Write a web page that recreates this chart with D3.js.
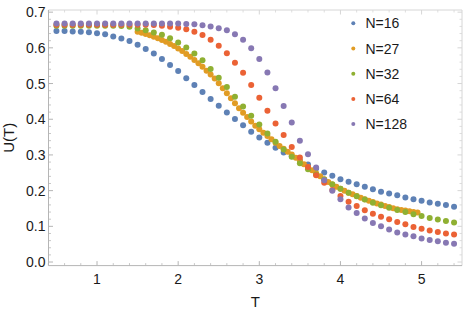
<html>
<head>
    <script src="https://d3js.org/d3.v7.min.js"></script>
    <style>
        body { margin: 0; background: #fff; }
        .tickLabel { font-family: "Liberation Sans", Arial, sans-serif; font-size: 14px; fill: #1a1a1a; }
        .axisTitle { font-family: "Liberation Sans", Arial, sans-serif; font-size: 15px; fill: #1a1a1a; }
        .legendLabels { font-family: "Liberation Sans", Arial, sans-serif; font-size: 14px; fill: #1a1a1a; }
    </style>
</head>
<body>
<svg id="chart" width="463" height="313"></svg>
<script>
    // temperatures for N=16, 32, 64, 128 (step 0.1)
    const tCoarse = [0.5, 0.6, 0.7, 0.8, 0.9, 1.0, 1.1, 1.2, 1.3, 1.4,
        1.5, 1.6, 1.7, 1.8, 1.9, 2.0, 2.1, 2.2, 2.3, 2.4,
        2.5, 2.6, 2.7, 2.8, 2.9, 3.0, 3.1, 3.2, 3.3, 3.4,
        3.5, 3.6, 3.7, 3.8, 3.9, 4.0, 4.1, 4.2, 4.3, 4.4,
        4.5, 4.6, 4.7, 4.8, 4.9, 5.0, 5.1, 5.2, 5.3, 5.4];
    // temperatures for N=27 (step 0.05)
    const tFine = [1.50, 1.55, 1.60, 1.65, 1.70, 1.75, 1.80, 1.85, 1.90, 1.95,
        2.00, 2.05, 2.10, 2.15, 2.20, 2.25, 2.30, 2.35, 2.40, 2.45,
        2.50, 2.55, 2.60, 2.65, 2.70, 2.75, 2.80, 2.85, 2.90, 2.95,
        3.00, 3.05, 3.10, 3.15, 3.20, 3.25, 3.30, 3.35, 3.40, 3.45,
        3.50, 3.55, 3.60, 3.65, 3.70, 3.75, 3.80, 3.85, 3.90, 3.95,
        4.00, 4.05, 4.10, 4.15, 4.20, 4.25, 4.30, 4.35, 4.40, 4.45,
        4.50, 4.55, 4.60, 4.65, 4.70, 4.75, 4.80, 4.85, 4.90, 4.95];

    const u16 = [0.647, 0.647, 0.646, 0.645, 0.644, 0.641, 0.638, 0.632, 0.626, 0.619,
        0.609, 0.597, 0.584, 0.569, 0.552, 0.535, 0.515, 0.496, 0.476, 0.457,
        0.438, 0.419, 0.401, 0.383, 0.365, 0.349, 0.334, 0.320, 0.307, 0.296,
        0.285, 0.273, 0.262, 0.251, 0.242, 0.232, 0.225, 0.218, 0.211, 0.204,
        0.197, 0.192, 0.187, 0.181, 0.176, 0.172, 0.167, 0.163, 0.160, 0.155];
    const u27 = [0.645, 0.642, 0.639, 0.635, 0.631, 0.627, 0.622, 0.617, 0.611, 0.605,
        0.598, 0.591, 0.583, 0.575, 0.566, 0.557, 0.547, 0.536, 0.525, 0.514,
        0.501, 0.487, 0.473, 0.459, 0.445, 0.431, 0.418, 0.406, 0.394, 0.382,
        0.372, 0.362, 0.353, 0.344, 0.334, 0.325, 0.317, 0.309, 0.301, 0.292,
        0.283, 0.274, 0.266, 0.257, 0.249, 0.240, 0.232, 0.224, 0.217, 0.211,
        0.205, 0.200, 0.194, 0.190, 0.185, 0.180, 0.176, 0.172, 0.168, 0.164,
        0.161, 0.157, 0.154, 0.151, 0.148, 0.146, 0.144, 0.142, 0.140, 0.139];
    const u32 = [0.662, 0.662, 0.662, 0.662, 0.662, 0.662, 0.662, 0.662, 0.661, 0.659,
        0.654, 0.649, 0.643, 0.637, 0.627, 0.615, 0.601, 0.584, 0.565, 0.541,
        0.516, 0.490, 0.463, 0.436, 0.410, 0.385, 0.360, 0.337, 0.315, 0.295,
        0.277, 0.260, 0.245, 0.231, 0.218, 0.205, 0.194, 0.184, 0.175, 0.166,
        0.159, 0.152, 0.146, 0.140, 0.134, 0.129, 0.123, 0.119, 0.115, 0.111];
    const u64 = [0.665, 0.665, 0.665, 0.665, 0.665, 0.665, 0.665, 0.665, 0.665, 0.665,
        0.665, 0.665, 0.664, 0.662, 0.659, 0.656, 0.652, 0.645, 0.636, 0.623,
        0.606, 0.585, 0.558, 0.530, 0.496, 0.460, 0.424, 0.388, 0.356, 0.322,
        0.293, 0.266, 0.243, 0.222, 0.202, 0.185, 0.169, 0.157, 0.145, 0.135,
        0.127, 0.120, 0.112, 0.106, 0.098, 0.093, 0.088, 0.084, 0.080, 0.077];
    const u128 = [0.668, 0.668, 0.668, 0.668, 0.668, 0.668, 0.668, 0.668, 0.668, 0.668,
        0.668, 0.668, 0.668, 0.668, 0.668, 0.668, 0.667, 0.666, 0.663, 0.660,
        0.655, 0.649, 0.638, 0.623, 0.599, 0.569, 0.531, 0.487, 0.437, 0.391,
        0.340, 0.302, 0.265, 0.229, 0.200, 0.176, 0.153, 0.137, 0.122, 0.109,
        0.100, 0.091, 0.083, 0.077, 0.072, 0.066, 0.062, 0.058, 0.054, 0.051];

    const seriesNames = ["N=16", "N=27", "N=32", "N=64", "N=128"];
    const seriesColors = ["#5E81B5", "#E19C24", "#8FB032", "#EB6235", "#8778B3"];
    const xTicks = [1, 2, 3, 4, 5];
    const yTicks = [0.0, 0.1, 0.2, 0.3, 0.4, 0.5, 0.6, 0.7];

    const series = [
        {name: seriesNames[0], t: tCoarse, u: u16},
        {name: seriesNames[1], t: tFine, u: u27},
        {name: seriesNames[2], t: tCoarse, u: u32},
        {name: seriesNames[3], t: tCoarse, u: u64},
        {name: seriesNames[4], t: tCoarse, u: u128}
    ];

    const svg = d3.select("#chart");
    const plotLeft = 48.5, plotRight = 462, plotTop = 10, plotBottom = 265.6;

    const x = d3.scaleLinear().domain([0.402, 5.498]).range([plotLeft, plotRight]);
    const y = d3.scaleLinear().domain([-0.01, 0.706]).range([plotBottom, plotTop]);
    const color = d3.scaleOrdinal().domain(seriesNames).range(seriesColors);

    const xMinor = d3.range(0.4, 5.5, 0.2).filter(v => Math.abs(v - Math.round(v)) > 0.01);
    const yMinor = d3.range(0, 0.71, 0.02).filter(v => Math.abs(v * 10 - Math.round(v * 10)) > 0.01);

    // frame ticks: bottom/left strong, top/right light
    function drawTicks(g, scale, values, len, orient, stroke) {
        g.append("g").selectAll("line").data(values).join("line")
            .attr("stroke", stroke).attr("stroke-width", 1)
            .each(function (d) {
                const s = d3.select(this);
                const p = scale(d);
                if (orient === "bottom") s.attr("x1", p).attr("x2", p).attr("y1", plotBottom).attr("y2", plotBottom - len);
                if (orient === "top") s.attr("x1", p).attr("x2", p).attr("y1", plotTop).attr("y2", plotTop + len);
                if (orient === "left") s.attr("y1", p).attr("y2", p).attr("x1", plotLeft).attr("x2", plotLeft + len);
                if (orient === "right") s.attr("y1", p).attr("y2", p).attr("x1", plotRight).attr("x2", plotRight - len);
            });
    }

    const frame = svg.append("g");
    drawTicks(frame, x, xTicks, 4.5, "bottom", "#b5b5b5");
    drawTicks(frame, x, xMinor, 2.5, "bottom", "#c8c8c8");
    drawTicks(frame, y, yTicks, 4.5, "left", "#b5b5b5");
    drawTicks(frame, y, yMinor, 2.5, "left", "#c8c8c8");
    drawTicks(frame, x, xTicks, 4.5, "top", "#d6d6d6");
    drawTicks(frame, x, xMinor, 2.5, "top", "#dedede");
    drawTicks(frame, y, yTicks, 4.5, "right", "#d6d6d6");
    drawTicks(frame, y, yMinor, 2.5, "right", "#dedede");

    frame.append("line").attr("x1", plotLeft).attr("x2", plotRight).attr("y1", plotTop).attr("y2", plotTop).attr("stroke", "#d6d6d6");
    frame.append("line").attr("x1", plotRight).attr("x2", plotRight).attr("y1", plotTop).attr("y2", plotBottom).attr("stroke", "#d6d6d6");
    frame.append("line").attr("x1", plotLeft).attr("x2", plotRight).attr("y1", plotBottom).attr("y2", plotBottom).attr("stroke", "#b5b5b5");
    frame.append("line").attr("x1", plotLeft).attr("x2", plotLeft).attr("y1", plotTop).attr("y2", plotBottom).attr("stroke", "#b5b5b5");

    svg.selectAll("text.xLabel").data(xTicks).join("text")
        .attr("class", "tickLabel xLabel")
        .attr("x", d => x(d)).attr("y", 279)
        .attr("text-anchor", "middle").attr("dominant-baseline", "central")
        .text(d => d);

    svg.selectAll("text.yLabel").data(yTicks).join("text")
        .attr("class", "tickLabel yLabel")
        .attr("x", 45.5).attr("y", d => y(d))
        .attr("text-anchor", "end").attr("dominant-baseline", "central")
        .text(d => d.toFixed(1));

    svg.append("text").attr("class", "axisTitle")
        .attr("x", (plotLeft + plotRight) / 2).attr("y", 301.5)
        .attr("text-anchor", "middle").attr("dominant-baseline", "central")
        .text("T");

    svg.append("text").attr("class", "axisTitle")
        .attr("transform", "translate(8," + (plotTop + plotBottom) / 2 + ") rotate(-90)")
        .attr("text-anchor", "middle").attr("dominant-baseline", "central")
        .text("U(T)");

    // points
    series.forEach(s => {
        svg.append("g").selectAll("circle").data(s.u).join("circle")
            .attr("cx", (d, i) => x(s.t[i]))
            .attr("cy", d => y(d))
            .attr("r", 3)
            .attr("fill", color(s.name));
    });

    // legend
    const legend = svg.append("g");
    legend.selectAll("circle").data(seriesNames).join("circle")
        .attr("cx", 353.3)
        .attr("cy", (d, i) => 23.3 + i * 25.2)
        .attr("r", 2)
        .attr("fill", d => color(d));
    legend.selectAll("text").data(seriesNames).join("text")
        .attr("class", "legendLabels")
        .attr("x", 365.5)
        .attr("y", (d, i) => 23.3 + i * 25.2)
        .attr("dominant-baseline", "central")
        .text(d => d);
</script>
</body>
</html>
